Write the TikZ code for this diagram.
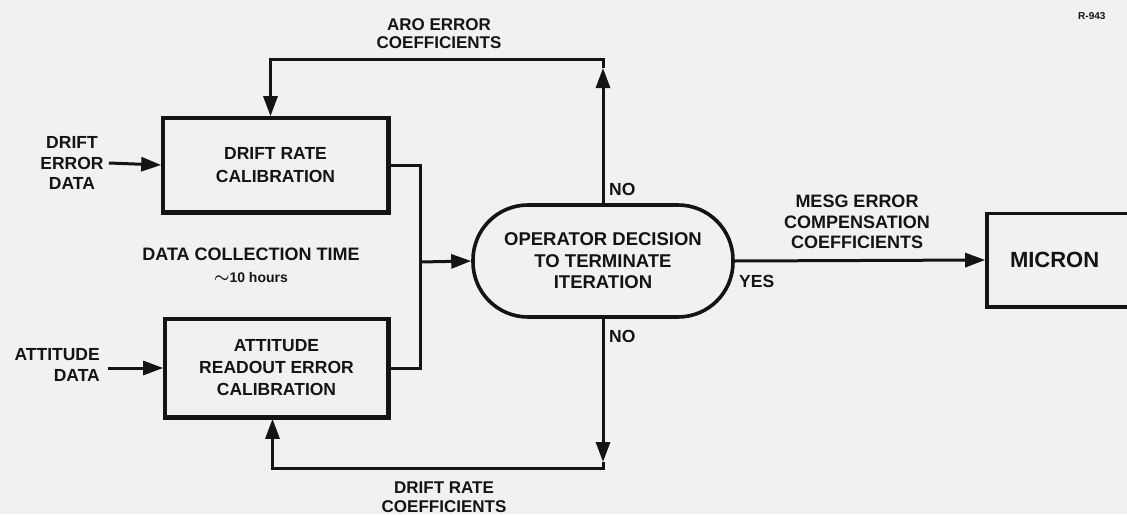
\documentclass[tikz,border=0pt]{standalone}
\usepackage{fontspec}
\setmainfont{Liberation Sans}
\usetikzlibrary{arrows.meta}
\definecolor{bgcol}{RGB}{241,241,239}
\definecolor{ink}{RGB}{20,20,20}
\tikzset{
  box/.style={draw=ink, line width=3.6pt, inner sep=0pt, align=center, text=ink},
  lbl/.style={inner sep=0pt, align=center, text=ink, font=\bfseries\fontsize{17.5}{20.5}\selectfont},
  conn/.style={draw=ink, line width=3pt},
  arr/.style={conn, -{Triangle[length=20pt,width=14pt]}},
  shade/.style={draw=ink, line width=2.4pt},
}
\newcommand{\boxshade}[1]{%
  \draw[shade] ([shift={(-0.2pt,0.2pt)}]#1.south west) -- ([shift={(-0.2pt,0.2pt)}]#1.south east) -- ([shift={(-0.2pt,0.2pt)}]#1.north east);}
\begin{document}
\begin{tikzpicture}[x=1pt,y=-1pt]
\useasboundingbox (0,0) rectangle (1127,514);
\fill[bgcol] (0,0) rectangle (1127,514);
\clip (0,0) rectangle (1127,514);

% boxes
\node[box, minimum width=225pt, minimum height=94pt, font=\bfseries\fontsize{17.5}{23}\selectfont] (drift) at (275.5,165) {DRIFT RATE\\CALIBRATION};
\node[box, minimum width=223pt, minimum height=98pt, font=\bfseries\fontsize{17.5}{22}\selectfont] (att) at (276.5,368) {ATTITUDE\\READOUT ERROR\\CALIBRATION};
\node[box, rectangle, rounded corners=55pt, minimum width=260pt, minimum height=112pt, font=\bfseries\fontsize{18.5}{21.5}\selectfont] (oval) at (603,261) {OPERATOR DECISION\\TO TERMINATE\\ITERATION};
\node[box, minimum width=160pt, minimum height=93pt, font=\bfseries\fontsize{22}{26}\selectfont, text width=140pt, align=left] (micron) at (1067,260) {\hspace*{13pt}MICRON};
\boxshade{drift}
\boxshade{att}
\boxshade{micron}

% labels
\node[lbl] (dlab) at (72,163) {DRIFT\\ERROR\\DATA};
\node[lbl, align=right, anchor=east] (alab) at (100,365) {ATTITUDE\\DATA};
\node[lbl, font=\bfseries\fontsize{18}{22}\selectfont] (timelab) at (251,265) {DATA COLLECTION TIME\\{\fontsize{14}{20}\selectfont{\boldmath\LARGE$\sim$}10 hours}};
\node[lbl, font=\bfseries\fontsize{17}{18}\selectfont] (arolab) at (439,34) {ARO ERROR\\COEFFICIENTS};
\node[lbl, font=\bfseries\fontsize{17}{19}\selectfont] (drclab) at (444,497) {DRIFT RATE\\COEFFICIENTS};
\node[lbl, font=\bfseries\fontsize{18}{20.5}\selectfont] (mesglab) at (857,222) {MESG ERROR\\COMPENSATION\\COEFFICIENTS};
\node[lbl, anchor=west] (notop) at (609,189) {NO};
\node[lbl, anchor=west] (nobot) at (609,336) {NO};
\node[lbl, anchor=west] (yes) at (739,281) {YES};
\node[lbl, anchor=west, font=\bfseries\fontsize{10}{12}\selectfont] (rnum) at (1078,16) {R-943};

% junctions
\coordinate (j) at (420,262);
\coordinate (tr) at (603,59);
\coordinate (utip) at (603,68);
\coordinate (br) at (603,468);
\coordinate (dtip) at (603,462);

% connectors
\draw[arr] ([xshift=5pt]dlab.east) -- (drift.west);
\draw[arr] ([xshift=8pt]alab.east |- att.west) -- (att.west);
\draw[conn] (drift.east) -| (j) |- (att.east);
\draw[arr] (j) -- (oval.west);
\draw[arr] (oval.east) -- (micron.west);
\draw[arr] (oval.north) -- (utip);
\draw[arr] (utip) -- (tr) -| ([xshift=-5pt]drift.north);
\draw[arr] (oval.south) -- (dtip);
\draw[arr] (dtip) -- (br) -| ([xshift=-4pt]att.south);
\end{tikzpicture}
\end{document}
